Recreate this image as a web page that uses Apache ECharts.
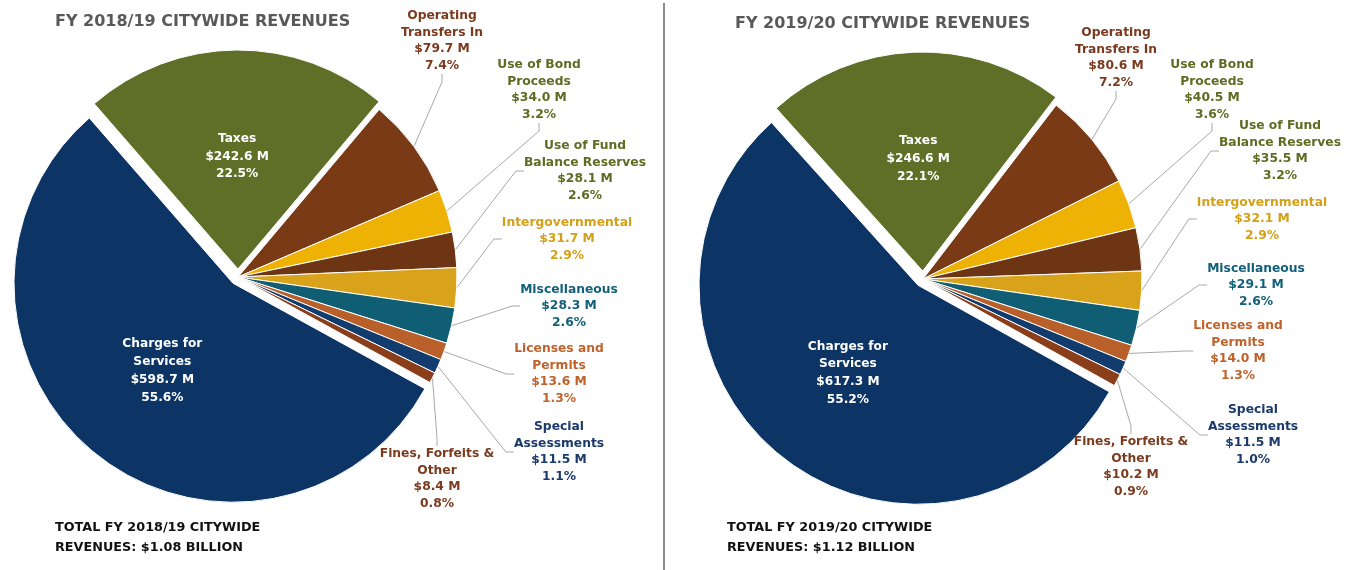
<!DOCTYPE html>
<html><head><meta charset="utf-8">
<script src="https://cdn.jsdelivr.net/npm/echarts@6/dist/echarts.min.js"></script>
<style>html,body{margin:0;padding:0;background:#fff}#c{width:1353px;height:570px}</style>
</head><body><div id="c"></div>
<script>
// ---- data ----
const categories = ['Taxes','Operating Transfers In','Use of Bond Proceeds','Use of Fund Balance Reserves','Intergovernmental','Miscellaneous','Licenses and Permits','Special Assessments','Fines, Forfeits & Other','Charges for Services'];
const labelNames = ['Taxes','Operating\nTransfers In','Use of Bond\nProceeds','Use of Fund\nBalance Reserves','Intergovernmental','Miscellaneous','Licenses and\nPermits','Special\nAssessments','Fines, Forfeits &\nOther','Charges for\nServices'];
const fy1819Values = [242.6, 79.7, 34.0, 28.1, 31.7, 28.3, 13.6, 11.5, 8.4, 598.7];
const fy1920Values = [246.6, 80.6, 40.5, 35.5, 32.1, 29.1, 14.0, 11.5, 10.2, 617.3];
const chartTitles = ['FY 2018/19 CITYWIDE REVENUES', 'FY 2019/20 CITYWIDE REVENUES'];
const totalTexts = ['TOTAL FY 2018/19 CITYWIDE\nREVENUES: $1.08 BILLION', 'TOTAL FY 2019/20 CITYWIDE\nREVENUES: $1.12 BILLION'];
const explodedItems = ['Taxes', 'Charges for Services'];

// ---- styles / layout ----
const sliceColors = ['#5F6F27','#7A3A16','#EDB203','#6E3515','#D9A21B','#0F5E74','#B9602A','#123B6E','#8A3E1A','#0C3464'];
const labelColors = ['#ffffff','#7A3A1E','#5E6B22','#5E6B22','#D4A017','#12607A','#C0622B','#1B3A6B','#7A3A1E','#ffffff'];
const FONT = 'DejaVu Sans';
const labelPosLeft = [[237,138],[442,41],[539,90],[585,171],[567,239],[569,306],[559,374],[559,452],[437,479],[201,355]];
const labelPosRight = [[929,131],[1116,58],[1212,90],[1280,151],[1262,219],[1256,285],[1238,351],[1253,435],[1131,467],[858,373]];

function makeSeries(values, center, startAngle, pos) {
  const total = values.reduce((a, b) => a + b, 0);
  return {
    type: 'pie',
    center: center,
    radius: 219,
    startAngle: startAngle,
    clockwise: true,
    selectedMode: 'multiple',
    selectedOffset: 8,
    avoidLabelOverlap: false,
    animation: false,
    emphasis: { disabled: true },
    itemStyle: { borderColor: '#ffffff', borderWidth: 1 },
    labelLine: { show: true, length: 10, length2: 8, lineStyle: { color: '#a8a8a8', width: 1 } },
    label: {
      show: true,
      position: 'outside',
      fontFamily: FONT,
      fontWeight: 'bold',
      fontSize: 12.3,
      lineHeight: 16.5,
      align: 'center',
      formatter: function (p) {
        return labelNames[p.dataIndex] + '\n$' + p.value.toFixed(1) + ' M\n' + (p.value / total * 100).toFixed(1) + '%';
      }
    },
    labelLayout: function (p) {
      const xy = pos[p.dataIndex];
      return { x: xy[0], y: xy[1], align: 'center', verticalAlign: 'middle' };
    },
    data: values.map(function (v, i) {
      const inside = explodedItems.indexOf(categories[i]) >= 0;
      return {
        name: categories[i],
        value: v,
        selected: inside,
        itemStyle: { color: sliceColors[i] },
        label: { position: inside ? 'inside' : 'outside', color: labelColors[i], fontSize: inside ? 12.2 : 12.3, lineHeight: inside ? 17.8 : 16.5 },
        labelLine: { show: !inside }
      };
    })
  };
}

const chart = echarts.init(document.getElementById('c'), null, { renderer: 'canvas' });
chart.setOption({
  backgroundColor: '#ffffff',
  title: [
    { text: chartTitles[0], left: 55, top: 14, padding: 0, textStyle: { fontFamily: FONT, fontWeight: 'bold', fontSize: 16, color: '#595959' } },
    { text: chartTitles[1], left: 735, top: 16, padding: 0, textStyle: { fontFamily: FONT, fontWeight: 'bold', fontSize: 16, color: '#595959' } },
    { text: totalTexts[0], left: 55, top: 518, padding: 0, textStyle: { fontFamily: FONT, fontWeight: 'bold', fontSize: 12.8, lineHeight: 20, color: '#111111' } },
    { text: totalTexts[1], left: 727, top: 518, padding: 0, textStyle: { fontFamily: FONT, fontWeight: 'bold', fontSize: 12.8, lineHeight: 20, color: '#111111' } }
  ],
  graphic: [
    { type: 'line', shape: { x1: 664, y1: 3, x2: 664, y2: 570 }, style: { stroke: '#8c8c8c', lineWidth: 2 } }
  ],
  series: [
    makeSeries(fy1819Values, [238, 277], 131, labelPosLeft),
    makeSeries(fy1920Values, [923, 279], 132, labelPosRight)
  ]
});
</script>
</body></html>
